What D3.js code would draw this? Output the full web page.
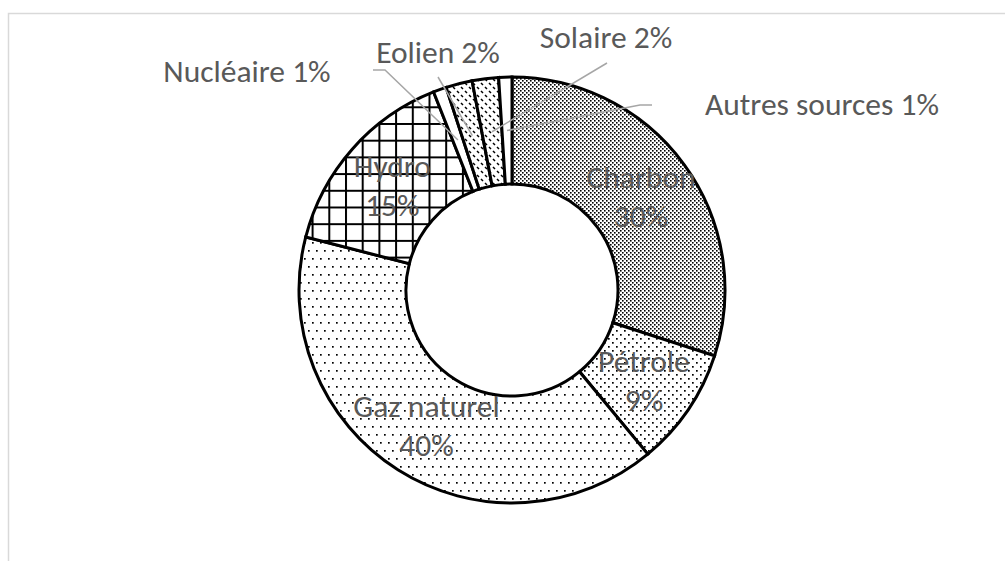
<!DOCTYPE html>
<html>
<head>
<meta charset="utf-8">
<script src="https://cdn.jsdelivr.net/npm/d3@7"></script>
<style>
  body { margin: 0; background: #fff; }
  svg { display: block; }
</style>
</head>
<body>
<div id="chart"></div>
<script>
// data: energy sources and their share (%), clockwise from 12 o'clock
const sources = ["Charbon", "Pétrole", "Gaz naturel", "Hydro", "Nucléaire", "Eolien", "Solaire", "Autres sources"];
const shares  = [30, 9, 40, 15, 1, 2, 2, 1];

// pattern per source (style only)
const patternOf = {
    "Charbon": "dense", "Pétrole": "medium", "Gaz naturel": "sparse", "Hydro": "grid",
    "Nucléaire": "none", "Eolien": "dash", "Solaire": "dash", "Autres sources": "none"
};

// manual placement of the small slices' labels + leader elbow
const outsideLayout = {
    "Nucléaire":      {x: 247, y: 82,  leader: [[373, 70], [385, 70]]},
    "Eolien":         {x: 438, y: 63,  leader: [[438, 77]]},
    "Solaire":        {x: 606, y: 48,  leader: [[607, 63]]},
    "Autres sources": {x: 822, y: 115, leader: [[652, 105], [640, 105]]}
};

const width = 1005, height = 561;
const cx = 512, cy = 290;
const outerR = 213, innerR = 106;
const labelFont = "Carlito, Calibri, Lato, sans-serif";
const labelSize = 31.5;
const labelColor = "#595959";

const data = sources.map((s, i) => ({source: s, share: shares[i]}));

const svg = d3.select("#chart")
    .append("svg")
        .attr("width", width)
        .attr("height", height);

// chart area frame (only top and left edges are visible)
svg.append("rect")
    .attr("x", 8.5)
    .attr("y", 13.5)
    .attr("width", 1010)
    .attr("height", 600)
    .attr("fill", "none")
    .attr("stroke", "#d9d9d9")
    .attr("stroke-width", 1.5);

//patterns
const defs = svg.append("defs");
function makePattern(id, w, h, draw) {
    const p = defs.append("pattern")
        .attr("id", id)
        .attr("patternUnits", "userSpaceOnUse")
        .attr("width", w)
        .attr("height", h);
    p.append("rect").attr("width", w).attr("height", h).attr("fill", "#fff");
    draw(p);
}
function dots(p, pts, s) {
    pts.forEach(([x, y]) => p.append("rect").attr("x", x).attr("y", y).attr("width", s).attr("height", s).attr("fill", "#000"));
}
makePattern("dense", 4, 4, p => dots(p, [[0, 0], [2, 2]], 1.6));
makePattern("medium", 8, 8, p => dots(p, [[0, 0], [4, 4]], 1.7));
makePattern("sparse", 8, 16, p => dots(p, [[0, 0], [4, 8]], 1.7));
makePattern("grid", 16.7, 16.7, p => p.append("path")
    .attr("d", "M1,0V16.7M0,1H16.7")
    .attr("stroke", "#000")
    .attr("stroke-width", 2));
makePattern("dash", 8, 8, p => p.append("path")
    .attr("d", "M1,1L3,3M5,5L7,7")
    .attr("stroke", "#000")
    .attr("stroke-width", 1.5));
makePattern("none", 4, 4, p => {});

const pie = d3.pie()
    .sort(null)
    .value(d => d.share);

const arc = d3.arc()
    .innerRadius(innerR)
    .outerRadius(outerR);

const arcs = pie(data);

const g = svg.append("g")
    .attr("transform", `translate(${cx}, ${cy})`);

g.selectAll("path.slice")
    .data(arcs)
    .join("path")
        .attr("class", "slice")
        .attr("d", arc)
        .attr("fill", d => `url(#${patternOf[d.data.source]})`)
        .attr("stroke", "#000")
        .attr("stroke-width", 3)
        .attr("stroke-linejoin", "miter");

// leader lines for the small slices
const line = d3.line();
arcs.filter(d => outsideLayout[d.data.source]).forEach(d => {
    const lay = outsideLayout[d.data.source];
    const [ex, ey] = arc.centroid(d);
    const pts = lay.leader.concat([[ex + cx, ey + cy]]);
    svg.append("path")
        .attr("d", line(pts))
        .attr("fill", "none")
        .attr("stroke", "#a6a6a6")
        .attr("stroke-width", 1.5);
});

// inside labels (2 lines) for the big slices
arcs.filter(d => !outsideLayout[d.data.source]).forEach(d => {
    const [x, y] = arc.centroid(d);
    const t = g.append("text")
        .attr("x", x)
        .attr("text-anchor", "middle")
        .style("font-family", labelFont)
        .style("font-size", labelSize + "px")
        .attr("fill", labelColor);
    t.append("tspan").attr("x", x).attr("y", y - 8).text(d.data.source);
    t.append("tspan").attr("x", x).attr("y", y + 31).text(d.data.share + "%");
});

// outside labels
arcs.filter(d => outsideLayout[d.data.source]).forEach(d => {
    const lay = outsideLayout[d.data.source];
    svg.append("text")
        .attr("x", lay.x)
        .attr("y", lay.y)
        .attr("text-anchor", "middle")
        .style("font-family", labelFont)
        .style("font-size", labelSize + "px")
        .attr("fill", labelColor)
        .text(`${d.data.source} ${d.data.share}%`);
});
</script>
</body>
</html>
